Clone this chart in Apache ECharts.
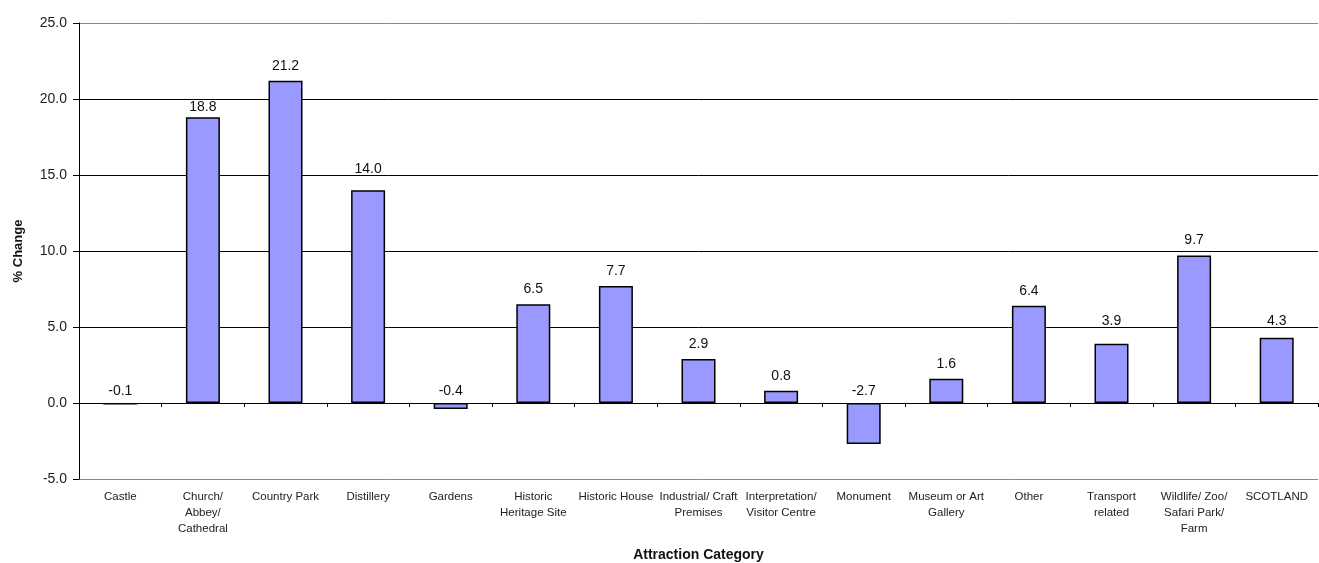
<!DOCTYPE html>
<html>
<head>
<meta charset="utf-8">
<script src="https://cdn.jsdelivr.net/npm/echarts@6/dist/echarts.min.js"></script>
<style>
  html, body { margin: 0; padding: 0; background: #fff; }
  #chart { width: 1319px; height: 563px; }
</style>
</head>
<body>
<div id="chart"></div>
<script>
// Attraction categories and their percentage change in visits
const categories = [
  'Castle', 'Church/\nAbbey/\nCathedral', 'Country Park', 'Distillery', 'Gardens',
  'Historic\nHeritage Site', 'Historic House', 'Industrial/ Craft\nPremises',
  'Interpretation/\nVisitor Centre', 'Monument', 'Museum or Art\nGallery', 'Other',
  'Transport\nrelated', 'Wildlife/ Zoo/\nSafari Park/\nFarm', 'SCOTLAND'
];
const percentChange = [-0.1, 18.8, 21.2, 14.0, -0.4, 6.5, 7.7, 2.9, 0.8, -2.7, 1.6, 6.4, 3.9, 9.7, 4.3];

// Value axis range
const yMin = -5, yMax = 25, yStep = 5;

const FONT = '"Liberation Sans", Arial, sans-serif';
const PLOT_HEIGHT = 456;
const PX_PER_UNIT = PLOT_HEIGHT / (yMax - yMin);
const LABEL_GAP = 8;       // gap between bar top and value label box
const LABEL_HALF = 8;      // half the label box height
const CLEARANCE = 6;       // room kept between a label centre and a gridline

// Value labels are nudged off any gridline they would otherwise cross:
// upwards by preference, downwards only when clearly below the line
const barData = percentChange.map(v => {
  if (v < 0) return { value: v, label: { distance: 5 } };
  const topPx = v * PX_PER_UNIT;
  const midPx = topPx + LABEL_GAP + LABEL_HALF;
  const stepPx = yStep * PX_PER_UNIT;
  const linePx = Math.round(midPx / stepPx) * stepPx;
  if (Math.abs(midPx - linePx) >= CLEARANCE) return v;
  const newMid = midPx >= linePx - 1 ? linePx + CLEARANCE + 1 : linePx - CLEARANCE - 1;
  return { value: v, label: { distance: Math.max(1, newMid - topPx - LABEL_HALF) } };
});

const chart = echarts.init(document.getElementById('chart'), null, { renderer: 'canvas' });
chart.setOption({
  animation: false,
  backgroundColor: '#ffffff',
  grid: { left: 79, right: 1, top: 23, bottom: 84, containLabel: false, outerBoundsMode: 'none' },
  xAxis: {
    type: 'category',
    data: categories,
    boundaryGap: true,
    name: 'Attraction Category',
    nameLocation: 'middle',
    nameGap: 69,
    nameMoveOverlap: false,
    nameTextStyle: { fontFamily: FONT, fontSize: 14, fontWeight: 'bold', color: '#111' },
    axisLine: { onZero: true, lineStyle: { color: '#000', width: 1 } },
    axisTick: { show: true, alignWithLabel: false, length: 4, inside: false, lineStyle: { color: '#000' } },
    axisLabel: {
      interval: 0,
      fontFamily: FONT,
      fontSize: 11.5,
      color: '#222',
      lineHeight: 16,
      margin: 10,
      verticalAlign: 'top'
    }
  },
  yAxis: {
    type: 'value',
    min: yMin,
    max: yMax,
    interval: yStep,
    name: '% Change',
    nameLocation: 'middle',
    nameGap: 54,
    nameRotate: 90,
    nameMoveOverlap: false,
    nameTextStyle: { fontFamily: FONT, fontSize: 13, fontWeight: 'bold', color: '#111' },
    axisLine: { show: true, lineStyle: { color: '#000', width: 1 } },
    axisTick: { show: true, length: 6, lineStyle: { color: '#000' } },
    axisLabel: {
      formatter: v => v.toFixed(1),
      fontFamily: FONT,
      fontSize: 14,
      color: '#222',
      margin: 12
    },
    splitLine: {
      show: true,
      lineStyle: { color: ['#888', '#000', '#000', '#000', '#000', '#000', '#888'], width: 1 }
    }
  },
  series: [{
    type: 'bar',
    data: barData,
    barWidth: 34,
    itemStyle: { color: '#9999ff', borderColor: '#000', borderWidth: 1.5 },
    label: {
      show: true,
      position: 'top',
      distance: LABEL_GAP,
      formatter: p => Number(p.value).toFixed(1),
      fontFamily: FONT,
      fontSize: 14,
      color: '#111'
    }
  }]
});
</script>
</body>
</html>
